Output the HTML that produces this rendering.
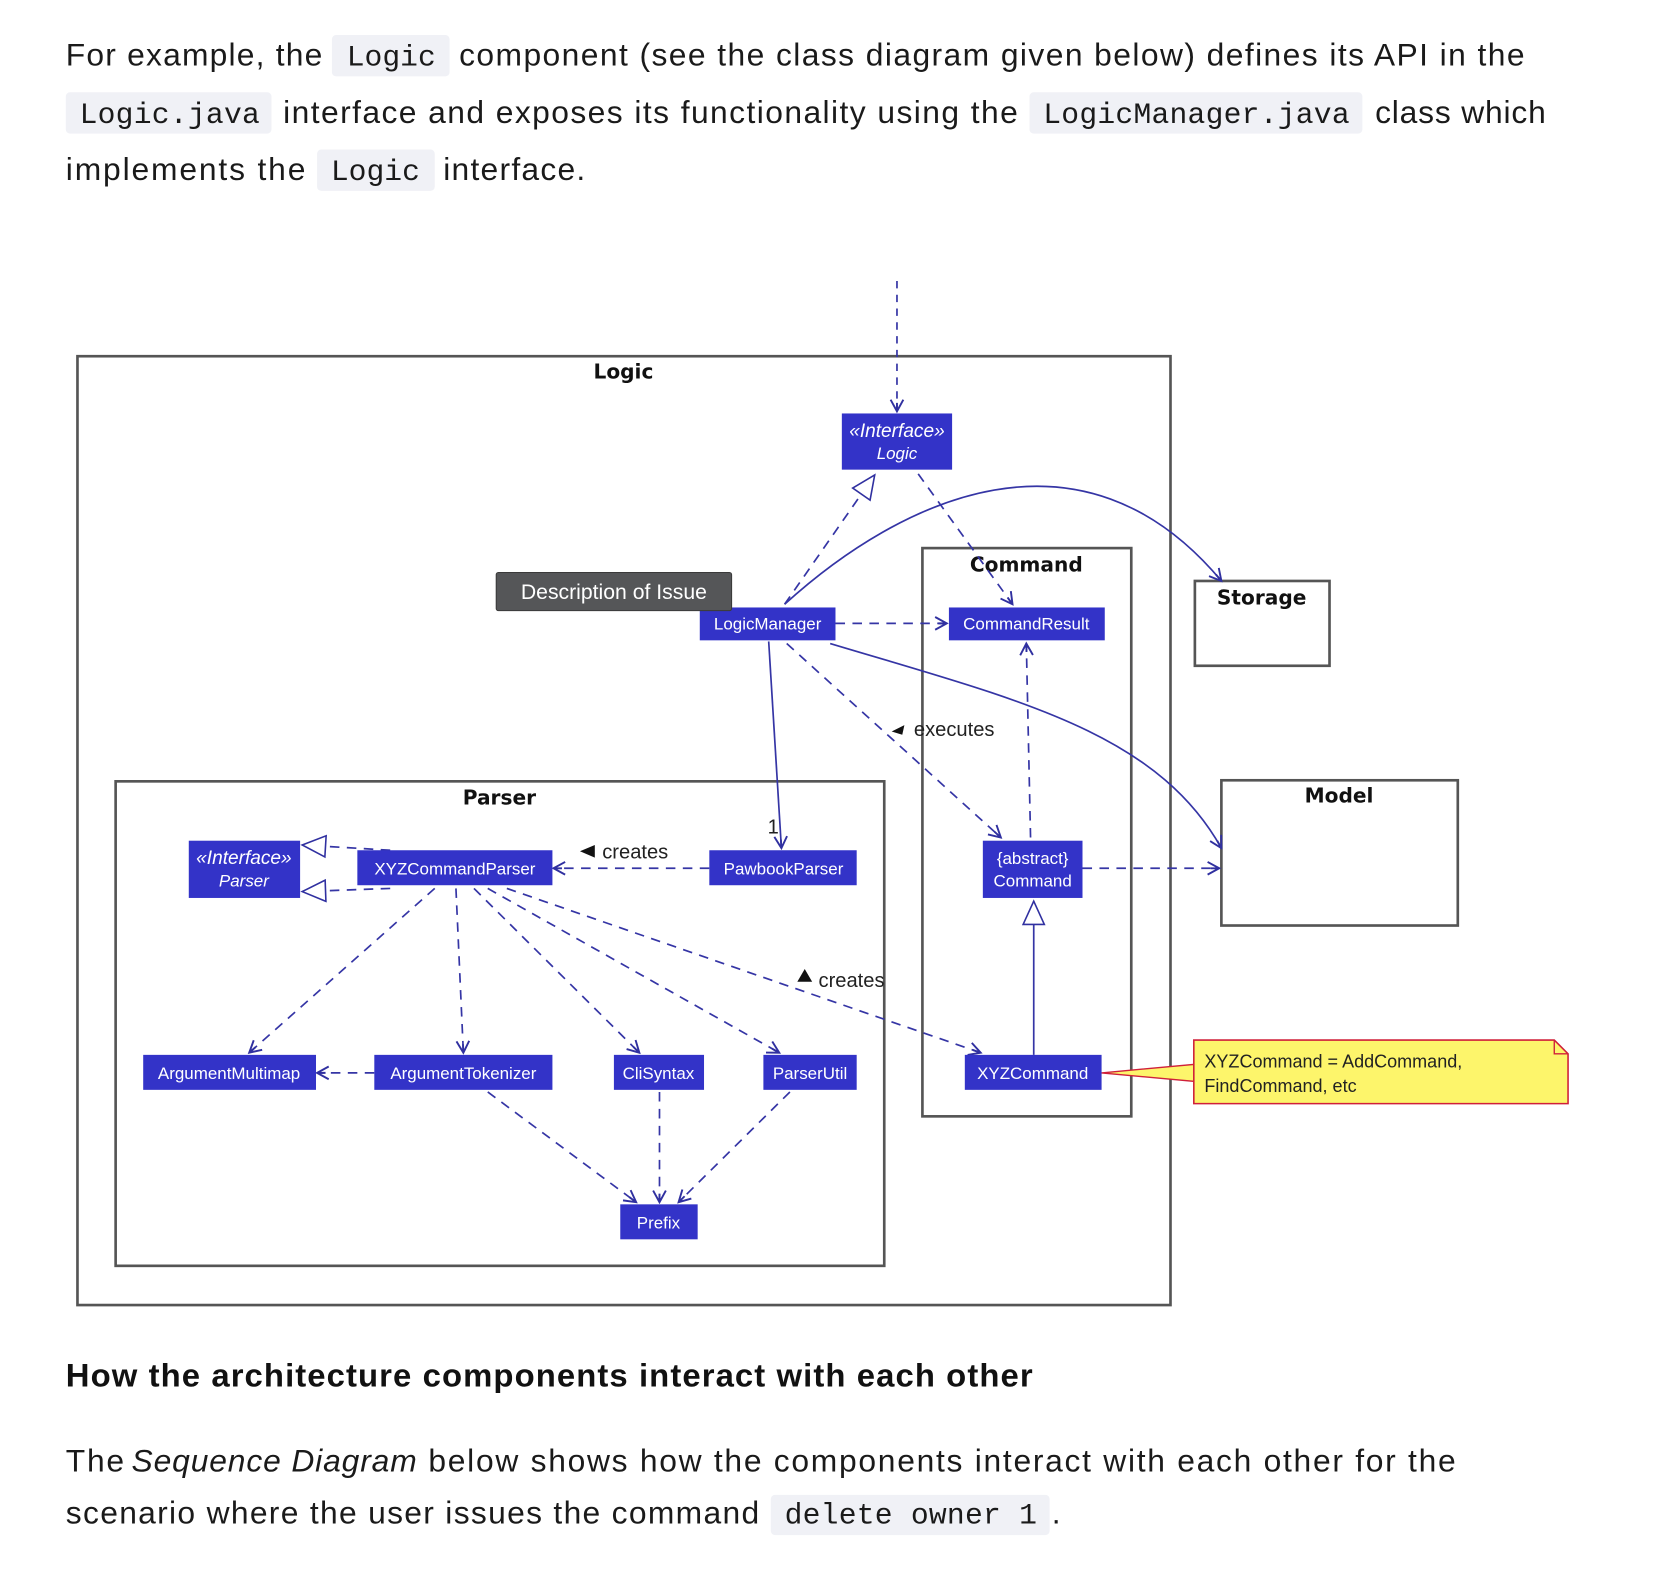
<!DOCTYPE html>
<html><head><meta charset="utf-8"><style>
html,body{margin:0;padding:0;background:#fff;}
svg{display:block;}
.t{font-family:"Liberation Sans",sans-serif;font-size:30px;fill:#1a1a1a;}
.c{font-family:"Liberation Mono",monospace;font-size:28px;fill:#1a1a1a;}
.bx{font-family:"Liberation Sans",sans-serif;font-size:16px;fill:#fff;}
.lb{font-family:"Liberation Sans",sans-serif;font-size:19px;fill:#222;}
.pk{font-family:"DejaVu Sans",sans-serif;font-size:19px;font-weight:bold;fill:#111;}
</style></head><body>
<svg width="1654" height="1586" viewBox="0 0 1560 1496" xmlns="http://www.w3.org/2000/svg">
<defs>
<marker id="a" markerWidth="14" markerHeight="14" refX="12" refY="7" orient="auto" markerUnits="userSpaceOnUse">
<path d="M1,1 L12,7 L1,13 M12,7 L4,7" fill="none" stroke="#3030a0" stroke-width="1.8"/></marker>
<marker id="tri" markerWidth="26" markerHeight="26" refX="24" refY="12" orient="auto" markerUnits="userSpaceOnUse">
<path d="M2,2 L24,12 L2,22 Z" fill="#fff" stroke="#3030a0" stroke-width="1.5"/></marker>
</defs>
<rect x="313" y="33" width="111" height="39" rx="4" fill="#f0f1f6"/>
<rect x="62" y="87" width="194" height="39" rx="4" fill="#f0f1f6"/>
<rect x="971" y="87" width="314" height="39" rx="4" fill="#f0f1f6"/>
<rect x="299" y="141" width="111" height="39" rx="4" fill="#f0f1f6"/>
<text class="t" x="62" y="62" textLength="242">For example, the</text>
<text class="c" x="327" y="62" textLength="84">Logic</text>
<text class="t" x="433" y="62" textLength="1005">component (see the class diagram given below) defines its API in the</text>
<text class="c" x="75" y="116" textLength="170">Logic.java</text>
<text class="t" x="267" y="116" textLength="693">interface and exposes its functionality using the</text>
<text class="c" x="984" y="116" textLength="289">LogicManager.java</text>
<text class="t" x="1297" y="116" textLength="161">class which</text>
<text class="t" x="62" y="170" textLength="226">implements the</text>
<text class="c" x="312" y="170" textLength="84">Logic</text>
<text class="t" x="418" y="170" textLength="134">interface.</text>

<g fill="none" stroke="#555" stroke-width="2.5">
<rect x="73" y="336" width="1031" height="895"/>
<rect x="109" y="737" width="725" height="457"/>
<rect x="870" y="517" width="197" height="536"/>
<rect x="1127" y="548" width="127" height="80"/>
<rect x="1152" y="736" width="223" height="137"/>
</g>
<text class="pk" x="588" y="357" text-anchor="middle">Logic</text>
<text class="pk" x="471" y="759" text-anchor="middle">Parser</text>
<text class="pk" x="968" y="539" text-anchor="middle">Command</text>
<text class="pk" x="1190" y="570" text-anchor="middle">Storage</text>
<text class="pk" x="1263" y="757" text-anchor="middle">Model</text>

<g fill="none" stroke="#3535a5" stroke-width="1.6">
<path d="M846,265 L846,388" stroke-dasharray="7,6" marker-end="url(#a)"/>
<path d="M740,570 L825,448" stroke-dasharray="9,7" marker-end="url(#tri)"/>
<path d="M866,447 L955,570" stroke-dasharray="9,7" marker-end="url(#a)"/>
<path d="M740,570 C850,470 1020,390 1152,548" marker-end="url(#a)"/>
<path d="M788,588 L893,588" stroke-dasharray="9,7" marker-end="url(#a)"/>
<path d="M783,607 C960,660 1090,690 1152,800" marker-end="url(#a)"/>
<path d="M725,605 L737,800" marker-end="url(#a)"/>
<path d="M742,607 L944,790" stroke-dasharray="9,7" marker-end="url(#a)"/>
<path d="M972,790 L968,607" stroke-dasharray="9,7" marker-end="url(#a)"/>
<path d="M1021,819 L1150,819" stroke-dasharray="9,7" marker-end="url(#a)"/>
<path d="M975,995 L975,850" marker-end="url(#tri)"/>
<path d="M669,819 L522,819" stroke-dasharray="9,7" marker-end="url(#a)"/>
<path d="M368,802 L285,797" stroke-dasharray="9,7" marker-end="url(#tri)"/>
<path d="M368,838 L285,841" stroke-dasharray="9,7" marker-end="url(#tri)"/>
<path d="M410,838 L235,993" stroke-dasharray="9,7" marker-end="url(#a)"/>
<path d="M430,838 L437,993" stroke-dasharray="9,7" marker-end="url(#a)"/>
<path d="M447,838 L603,993" stroke-dasharray="9,7" marker-end="url(#a)"/>
<path d="M460,838 L735,993" stroke-dasharray="9,7" marker-end="url(#a)"/>
<path d="M478,838 L925,993" stroke-dasharray="9,7" marker-end="url(#a)"/>
<path d="M353,1012 L299,1012" stroke-dasharray="9,7" marker-end="url(#a)"/>
<path d="M460,1030 L600,1134" stroke-dasharray="9,7" marker-end="url(#a)"/>
<path d="M622,1030 L622,1134" stroke-dasharray="9,7" marker-end="url(#a)"/>
<path d="M745,1030 L640,1134" stroke-dasharray="9,7" marker-end="url(#a)"/>
</g>
<text class="lb" x="724" y="786">1</text>
<path d="M841,690 L853,684 L851,693 Z" fill="#111"/>
<text class="lb" x="862" y="694">executes</text>
<path d="M547,803 L561,797 L561,809 Z" fill="#111"/>
<text class="lb" x="568" y="810">creates</text>
<path d="M752,926 L759,914 L766,926 Z" fill="#111"/>
<text class="lb" x="772" y="931">creates</text>

<path d="M1039,1012 L1126,1004 L1126,1020 Z" fill="#fdf56b" stroke="#d0203a" stroke-width="1.3"/>
<path d="M1126,981 L1466,981 L1479,994 L1479,1041 L1126,1041 Z" fill="#fdf56b" stroke="#d0203a" stroke-width="1.5"/>
<path d="M1466,981 L1466,994 L1479,994" fill="none" stroke="#d0203a" stroke-width="1.3"/>
<text class="lb" x="1136" y="1007" style="font-size:17px">XYZCommand = AddCommand,</text>
<text class="lb" x="1136" y="1030" style="font-size:17px">FindCommand, etc</text>

<g fill="#3333c8">
<rect x="794" y="390" width="104" height="53"/>
<rect x="660" y="573" width="128" height="31"/>
<rect x="895" y="573" width="147" height="31"/>
<rect x="178" y="793" width="105" height="54"/>
<rect x="337" y="802" width="184" height="33"/>
<rect x="669" y="802" width="139" height="33"/>
<rect x="927" y="793" width="94" height="54"/>
<rect x="135" y="995" width="163" height="33"/>
<rect x="353" y="995" width="168" height="33"/>
<rect x="579" y="995" width="85" height="33"/>
<rect x="720" y="995" width="88" height="33"/>
<rect x="910" y="995" width="129" height="33"/>
<rect x="585" y="1136" width="73" height="33"/>
</g>
<g class="bx" text-anchor="middle">
<text x="846" y="412" font-style="italic" font-size="18">«Interface»</text>
<text x="846" y="433" font-style="italic">Logic</text>
<text x="724" y="594">LogicManager</text>
<text x="968" y="594">CommandResult</text>
<text x="230" y="815" font-style="italic" font-size="18">«Interface»</text>
<text x="230" y="836" font-style="italic">Parser</text>
<text x="429" y="825">XYZCommandParser</text>
<text x="739" y="825">PawbookParser</text>
<text x="974" y="815">{abstract}</text>
<text x="974" y="836">Command</text>
<text x="216" y="1018">ArgumentMultimap</text>
<text x="437" y="1018">ArgumentTokenizer</text>
<text x="621" y="1018">CliSyntax</text>
<text x="764" y="1018">ParserUtil</text>
<text x="974" y="1018">XYZCommand</text>
<text x="621" y="1159">Prefix</text>
</g>

<rect x="468" y="540" width="222" height="36" rx="2" fill="#555658" stroke="#3a3a3a"/>
<text x="579" y="565" text-anchor="middle" style="font-family:'Liberation Sans',sans-serif;font-size:20px;fill:#fff">Description of Issue</text>

<text x="62" y="1308" style="font-family:'Liberation Sans',sans-serif;font-size:31px;font-weight:bold;fill:#111" textLength="912">How the architecture components interact with each other</text>
<text class="t" x="62" y="1388" textLength="55">The</text>
<text class="t" x="124" y="1388" font-style="italic" textLength="269">Sequence Diagram</text>
<text class="t" x="404" y="1388" textLength="969">below shows how the components interact with each other for the</text>
<text class="t" x="62" y="1437" textLength="654">scenario where the user issues the command</text>
<rect x="727" y="1410" width="263" height="38" rx="4" fill="#f0f1f6"/>
<text class="c" x="740" y="1437" textLength="238">delete owner 1</text>
<text class="t" x="992" y="1437">.</text>
</svg>
</body></html>
